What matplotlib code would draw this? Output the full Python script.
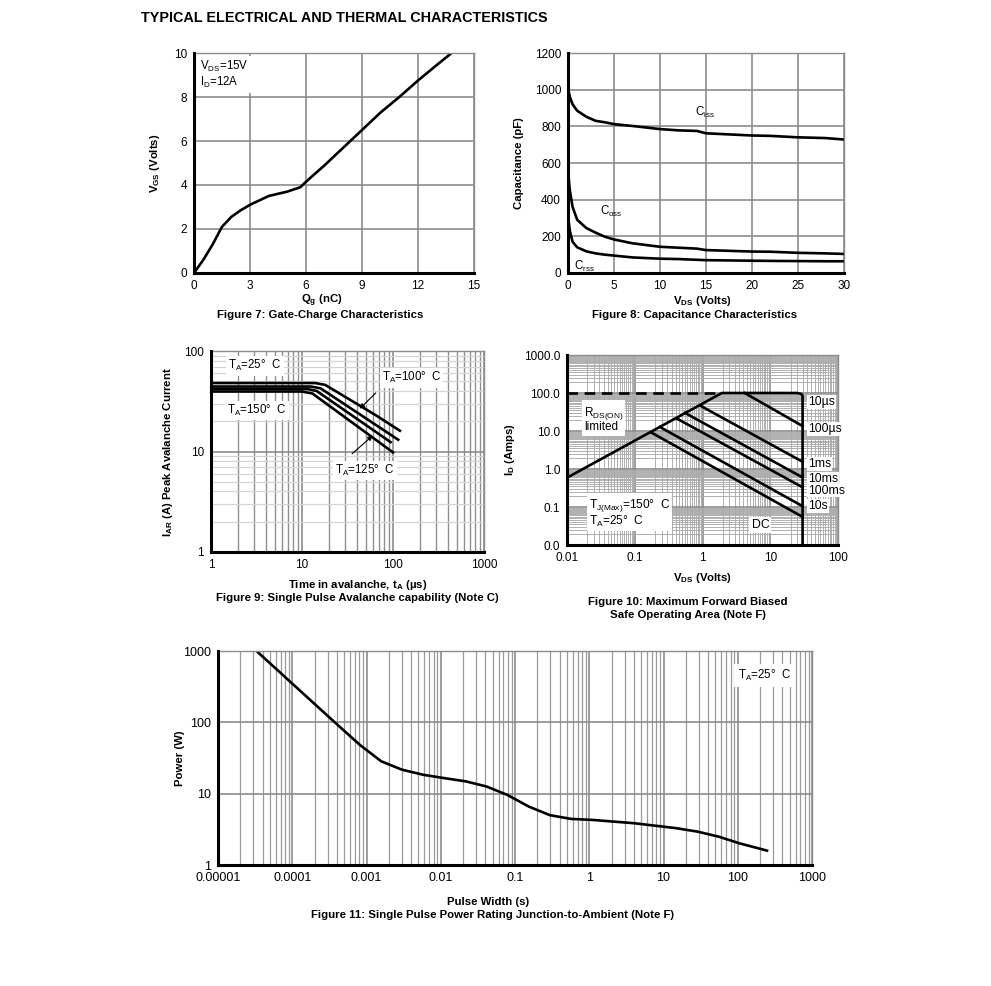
import numpy as np
import matplotlib.pyplot as plt
from matplotlib.ticker import LogLocator, NullFormatter, FixedLocator, FixedFormatter

plt.rcParams['font.family'] = ['Liberation Sans', 'DejaVu Sans']
plt.rcParams['mathtext.default'] = 'regular'
plt.rcParams['font.size'] = 8.5

# Figure 7: gate charge
qg = [0, 0.5, 1.0, 1.5, 2.0, 2.5, 3.0, 3.5, 4.0, 5.0, 5.7, 6.0, 7.0, 8.0, 9.0, 10.0, 11.0, 12.0, 13.0, 13.8]
vgs = [0, 0.6, 1.3, 2.1, 2.55, 2.85, 3.1, 3.3, 3.5, 3.7, 3.9, 4.15, 4.9, 5.7, 6.5, 7.3, 8.0, 8.75, 9.45, 10.0]

# Figure 8: capacitance
vds_cap = [0, 0.2, 0.5, 1, 2, 3, 4, 5, 7, 10, 12, 14, 15, 20, 22, 25, 28, 30]
ciss = [1010, 960, 920, 885, 852, 830, 822, 812, 802, 785, 778, 775, 762, 750, 748, 740, 736, 728]
coss = [560, 450, 360, 290, 245, 220, 198, 183, 162, 143, 138, 133, 125, 117, 116, 110, 107, 104]
crss = [310, 230, 170, 140, 118, 107, 100, 95, 85, 78, 76, 72, 70, 67, 66, 65, 64, 64]

# Figure 9: avalanche
ta_25, iar_25 = [1, 14, 18, 66, 119], [48, 48, 46, 22.7, 16.1]
ta_100, iar_100 = [1, 12.5, 16, 114], [44.3, 44.3, 42.5, 13.1]
ta_125, iar_125 = [1, 11.5, 14.5, 94], [41.8, 41.8, 40, 12.4]
ta_150, iar_150 = [1, 10, 13, 100], [39.5, 39.5, 37.8, 9.8]

# Figure 10: safe operating area
rds_x, rds_y = [0.01, 1.9], [100, 100]
env_x = [0.01, 1.93, 25, 28.5, 30, 30]
env_y = [0.59, 100, 100, 95, 85, 0.01]
soa_lines = {
    '100us': ([4.2, 30], [100, 13.5]),
    '1ms': ([0.916, 30], [47, 1.55]),
    '10ms': ([0.55, 30], [30, 0.6]),
    '100ms': ([0.415, 30], [21.4, 0.33]),
    '10s': ([0.236, 30], [12.7, 0.105]),
    'DC': ([0.178, 30], [9.0, 0.055]),
}

# Figure 11: single pulse power
pw = [3.3e-5, 8.9e-5, 3.74e-4, 8.2e-4, 1.58e-3, 3.0e-3, 5.8e-3, 0.0112, 0.0216, 0.0414, 0.079,
      0.153, 0.294, 0.565, 1.09, 4.03, 14.9, 28.6, 55, 106, 248]
power = [1000, 390, 100, 48, 28.4, 21.7, 18.4, 16.5, 14.9, 12.6, 9.6,
         6.6, 5.0, 4.43, 4.29, 3.85, 3.28, 2.94, 2.5, 2.01, 1.59]

W, H = 991, 986
fig = plt.figure(figsize=(W / 100, H / 100), dpi=100)

GRID = '#8c8c8c'
LW = 1.9
LAB = 8.2


def box(l, t, r, b):
    return [l / W, 1 - b / H, (r - l) / W, (b - t) / H]


def ftext(x, y, s, **kw):
    kw.setdefault('ha', 'center')
    kw.setdefault('va', 'center')
    kw.setdefault('fontweight', 'bold')
    kw.setdefault('fontsize', LAB)
    fig.text(x / W, 1 - y / H, s, **kw)


def style(ax, size=8.5):
    for s in ['left', 'bottom']:
        ax.spines[s].set_linewidth(2.2)
        ax.spines[s].set_zorder(5)
    for s in ['top', 'right']:
        ax.spines[s].set_color(GRID)
        ax.spines[s].set_linewidth(1)
    ax.tick_params(which='both', length=0, labelsize=size, pad=5)
    ax.set_axisbelow(True)


wbox = dict(facecolor='white', edgecolor='none', pad=1.5)

fig.text(141 / W, 1 - 18 / H, 'TYPICAL ELECTRICAL AND THERMAL CHARACTERISTICS',
         fontsize=10.4, fontweight='bold', va='center')

# ---- Figure 7
ax = fig.add_axes(box(194, 53, 474, 273))
ax.plot(qg, vgs, color='k', lw=LW)
ax.set_xlim(0, 15)
ax.set_ylim(0, 10)
ax.set_xticks(range(0, 16, 3))
ax.set_yticks(range(0, 11, 2))
ax.grid(True, color=GRID, lw=1.2)
style(ax)
ax.text(0.3, 9.72, 'V$_{DS}$=15V\nI$_D$=12A', va='top', ha='left', fontsize=8.3,
        linespacing=1.05, bbox=dict(facecolor='white', edgecolor='none', pad=2))
ftext(155, 163, 'V$_{GS}$ (Volts)', rotation=90)
ftext(322, 301, 'Q$_g$ (nC)')
ftext(320, 315, 'Figure 7: Gate-Charge Characteristics')

# ---- Figure 8
ax = fig.add_axes(box(568, 53, 844, 273))
for c in (ciss, coss, crss):
    ax.plot(vds_cap, c, color='k', lw=LW)
ax.set_xlim(0, 30)
ax.set_ylim(0, 1200)
ax.set_xticks(range(0, 31, 5))
ax.set_yticks(range(0, 1201, 200))
ax.grid(True, color=GRID, lw=1.2)
style(ax)
ax.text(13.8, 878, 'C$_{iss}$', fontsize=8.3, va='center')
ax.text(3.5, 333, 'C$_{oss}$', fontsize=8.3, va='center')
ax.text(0.6, 38, 'C$_{rss}$', fontsize=8.3, va='center')
ftext(519, 163, 'Capacitance (pF)', rotation=90)
ftext(702, 301, 'V$_{DS}$ (Volts)')
ftext(695, 315, 'Figure 8: Capacitance Characteristics')

# ---- Figure 9
ax = fig.add_axes(box(211, 351, 484, 552))
for x, y in ((ta_25, iar_25), (ta_100, iar_100), (ta_125, iar_125), (ta_150, iar_150)):
    ax.plot(x, y, color='k', lw=LW)
ax.set_xscale('log')
ax.set_yscale('log')
ax.set_xlim(1, 1000)
ax.set_ylim(1, 100)
ax.xaxis.set_major_locator(FixedLocator([1, 10, 100, 1000]))
ax.xaxis.set_major_formatter(FixedFormatter(['1', '10', '100', '1000']))
ax.yaxis.set_major_locator(FixedLocator([1, 10, 100]))
ax.yaxis.set_major_formatter(FixedFormatter(['1', '10', '100']))
ax.xaxis.set_minor_locator(LogLocator(subs=np.arange(2, 10), numticks=20))
ax.yaxis.set_minor_locator(LogLocator(subs=np.arange(2, 10), numticks=20))
ax.xaxis.set_minor_formatter(NullFormatter())
ax.yaxis.set_minor_formatter(NullFormatter())
ax.grid(True, which='major', color=GRID, lw=1.2)
ax.grid(True, which='minor', axis='x', color='#8f8f8f', lw=1.0)
ax.grid(True, which='minor', axis='y', color='#d4d4d4', lw=0.9)
style(ax)
ax.text(1.55, 71, 'T$_A$=25°  C', va='center', fontsize=8.3, bbox=wbox)
ax.text(1.5, 25.5, 'T$_A$=150°  C', va='center', fontsize=8.3, bbox=wbox)
ax.text(75, 54, 'T$_A$=100°  C', va='center', fontsize=8.3, bbox=wbox)
ax.text(23, 6.5, 'T$_A$=125°  C', va='center', fontsize=8.3, bbox=wbox)
ax.annotate('', xy=(41, 25.5), xytext=(68, 40),
            arrowprops=dict(arrowstyle='-|>', color='k', lw=0.8, mutation_scale=7))
ax.annotate('', xy=(63, 15), xytext=(33.7, 9.1),
            arrowprops=dict(arrowstyle='-|>', color='k', lw=0.8, mutation_scale=7))
ftext(168, 452, 'I$_{AR}$ (A) Peak Avalanche Current', rotation=90)
ftext(358, 585, 'Time in avalanche, t$_A$ (µs)')
ftext(357, 598, 'Figure 9: Single Pulse Avalanche capability (Note C)')

# ---- Figure 10
ax = fig.add_axes(box(567, 355, 838, 545))
ax.plot(rds_x, rds_y, color='k', lw=LW, ls=(0, (4, 2.5)))
ax.plot(env_x, env_y, color='k', lw=LW, solid_joinstyle='round')
for x, y in soa_lines.values():
    ax.plot(x, y, color='k', lw=LW)
ax.set_xscale('log')
ax.set_yscale('log')
ax.set_xlim(0.01, 100)
ax.set_ylim(0.01, 1000)
ax.xaxis.set_major_locator(FixedLocator([0.01, 0.1, 1, 10, 100]))
ax.xaxis.set_major_formatter(FixedFormatter(['0.01', '0.1', '1', '10', '100']))
ax.yaxis.set_major_locator(FixedLocator([0.01, 0.1, 1, 10, 100, 1000]))
ax.yaxis.set_major_formatter(FixedFormatter(['0.0', '0.1', '1.0', '10.0', '100.0', '1000.0']))
ax.xaxis.set_minor_locator(LogLocator(subs=np.arange(2, 10, 0.5), numticks=20))
ax.yaxis.set_minor_locator(LogLocator(subs=np.arange(2, 10, 0.5), numticks=20))
ax.xaxis.set_minor_formatter(NullFormatter())
ax.yaxis.set_minor_formatter(NullFormatter())
ax.grid(True, which='major', color=GRID, lw=1.2)
ax.grid(True, which='minor', color='#ababab', lw=0.65)
style(ax)
ax.text(0.0178, 20.5, 'R$_{DS(ON)}$\nlimited', va='center', fontsize=8.5, linespacing=0.95, bbox=wbox)
ax.text(0.021, 0.068, 'T$_{J(Max)}$=150°  C\nT$_A$=25°  C', va='center', fontsize=8.6,
        linespacing=1.0, bbox=wbox)
for lab, yv in (('10µs', 57), ('100µs', 11.3), ('1ms', 1.37), ('10ms', 0.56),
                ('100ms', 0.27), ('10s', 0.104)):
    ax.text(36, yv, lab, va='center', fontsize=8.8,
            bbox=dict(facecolor='white', edgecolor='none', pad=0.6))
ax.text(5.3, 0.033, 'DC', va='center', fontsize=8.8, bbox=wbox)
ftext(510, 450, 'I$_D$ (Amps)', rotation=90)
ftext(702, 578, 'V$_{DS}$ (Volts)')
ftext(688, 602, 'Figure 10: Maximum Forward Biased')
ftext(688, 615, 'Safe Operating Area (Note F)')

# ---- Figure 11
ax = fig.add_axes(box(218, 651, 812, 865))
ax.plot(pw, power, color='k', lw=LW)
ax.set_xscale('log')
ax.set_yscale('log')
ax.set_xlim(1e-5, 1000)
ax.set_ylim(1, 1000)
xt = [1e-5, 1e-4, 1e-3, 1e-2, 0.1, 1, 10, 100, 1000]
ax.xaxis.set_major_locator(FixedLocator(xt))
ax.xaxis.set_major_formatter(FixedFormatter(['0.00001', '0.0001', '0.001', '0.01', '0.1',
                                             '1', '10', '100', '1000']))
ax.yaxis.set_major_locator(FixedLocator([1, 10, 100, 1000]))
ax.yaxis.set_major_formatter(FixedFormatter(['1', '10', '100', '1000']))
ax.xaxis.set_minor_locator(LogLocator(subs=np.arange(2, 10), numticks=20))
ax.yaxis.set_minor_locator(FixedLocator([]))
ax.xaxis.set_minor_formatter(NullFormatter())
ax.grid(True, which='major', color=GRID, lw=1.2)
ax.grid(True, which='minor', axis='x', color='#9a9a9a', lw=0.9)
style(ax, size=9)
ax.text(100, 450, 'T$_A$=25°  C', va='center', fontsize=8.3,
        bbox=dict(facecolor='white', edgecolor='none', pad=3))
ftext(180, 758, 'Power (W)', rotation=90)
ftext(488, 902, 'Pulse Width (s)')
ftext(493, 915, 'Figure 11: Single Pulse Power Rating Junction-to-Ambient (Note F)')

fig.savefig('out.png', dpi=100)
